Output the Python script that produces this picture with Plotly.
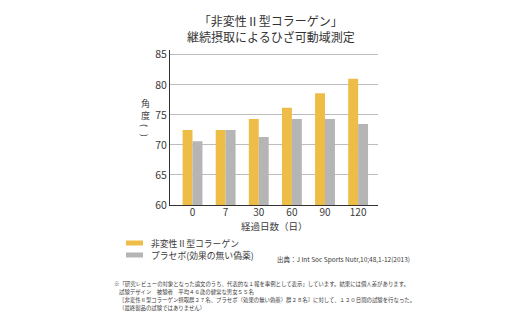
import plotly.graph_objects as go

days = ["0", "7", "30", "60", "90", "120"]
collagen = [72.5, 72.5, 74.3, 76.2, 78.6, 81.0]
placebo = [70.6, 72.5, 71.3, 74.3, 74.3, 73.5]
series_names = ["非変性Ⅱ型コラーゲン", "プラセボ(効果の無い偽薬)"]
colors = ["#EDBD48", "#B5B5B5"]
y_ticks = [60, 65, 70, 75, 80, 85]

FONT = "Noto Sans CJK JP"
TXT = "#3a3a3a"

L, R, T, B = 170, 142, 50, 118
W, H = 520, 323

fig = go.Figure()
for name, vals, col in zip(series_names, [collagen, placebo], colors):
    fig.add_trace(go.Bar(x=days, y=vals, name=name, marker=dict(color=col, line=dict(width=0)),
                         showlegend=False))

fig.update_layout(
    width=W, height=H,
    margin=dict(l=L, r=R, t=T, b=B),
    paper_bgcolor="white", plot_bgcolor="white",
    barmode="group", bargap=0.4, bargroupgap=0,
    font=dict(family=FONT, color=TXT),
    xaxis=dict(type="category", range=[-0.68, 5.6], showline=True, linecolor="#333333", linewidth=1,
               ticks="", tickfont=dict(size=10, color=TXT), ticklabelstandoff=-2),
    yaxis=dict(range=[60, 85.8], tickvals=y_ticks, showline=True, linecolor="#333333", linewidth=1,
               showgrid=True, gridcolor="#bdbdbd", gridwidth=1, zeroline=False, ticks="",
               tickfont=dict(size=10.5, color=TXT), ticklabelstandoff=0),
)


def px(x, y):
    return (x - L) / (W - L - R), (H - B - y) / (H - T - B)


annotations = []
shapes = []
tx, ty = px(271, 29)
annotations.append(dict(text="「非変性Ⅱ型コラーゲン」<br>継続摂取によるひざ可動域測定", x=tx, y=ty, xref="paper", yref="paper",
                        showarrow=False, font=dict(size=12, color="#333333"), align="center",
                        xanchor="center", yanchor="middle"))
# vertical y-axis title (upright characters)
for ch, yy, ang, sz in [("角", 103, 0, 9), ("度", 115, 0, 9), ("(", 125, 90, 8.5), (")", 135, 90, 8.5)]:
    ax, ay = px(145, yy)
    annotations.append(dict(text=ch, x=ax, y=ay, xref="paper", yref="paper", showarrow=False, textangle=ang,
                            font=dict(size=sz, color=TXT), xanchor="center", yanchor="middle"))
ax, ay = px(145.5, 128)
annotations.append(dict(text="°", x=ax, y=ay, xref="paper", yref="paper", showarrow=False,
                        font=dict(size=6, color=TXT), xanchor="center", yanchor="middle"))
# x-axis title
xtx, xty = px(274, 226)
annotations.append(dict(text="経過日数（日）", x=xtx, y=xty, xref="paper", yref="paper", showarrow=False,
                        font=dict(size=9.5, color=TXT), xanchor="center", yanchor="middle"))
# legend
leg_y = [243, 255]
for i, (name, col) in enumerate(zip(series_names, colors)):
    x0, y0 = px(126, leg_y[i] - 2.5)
    x1, y1 = px(143, leg_y[i] + 2.5)
    shapes.append(dict(type="rect", xref="paper", yref="paper", x0=x0, x1=x1, y0=y1, y1=y0,
                       fillcolor=col, line=dict(width=0)))
    lx, ly = px(149, leg_y[i])
    annotations.append(dict(text=name, x=lx, y=ly, xref="paper", yref="paper", showarrow=False,
                            font=dict(size=8.8, color=TXT), xanchor="left", yanchor="middle"))
sx, sy = px(412, 259)
annotations.append(dict(text="出典：J Int Soc Sports Nutr,10;48,1-12(2013)", x=sx, y=sy, xref="paper", yref="paper",
                        showarrow=False, font=dict(size=6.5, color=TXT), xanchor="right", yanchor="middle"))
notes = [
    ("※「研究レビューの対象となった論文のうち、代表的な１報を事例として表示」しています。結果には個人差があります。", 112, 284),
    ("試験デザイン　被験者　平均４６歳の健常な男女５５名", 117, 291.5),
    ("［非変性Ⅱ型コラーゲン摂取群２７名、プラセボ（効果の無い偽薬）群２８名］に対して、１２０日間の試験を行なった。", 117, 299.5),
    ("（最終製品の試験ではありません）", 117, 308),
]
for t, x, y in notes:
    nx, ny = px(x, y)
    annotations.append(dict(text=t, x=nx, y=ny, xref="paper", yref="paper", showarrow=False,
                            font=dict(size=5.4, color=TXT), xanchor="left", yanchor="middle"))

fig.update_layout(annotations=annotations, shapes=shapes)
fig.write_html("out.html")
